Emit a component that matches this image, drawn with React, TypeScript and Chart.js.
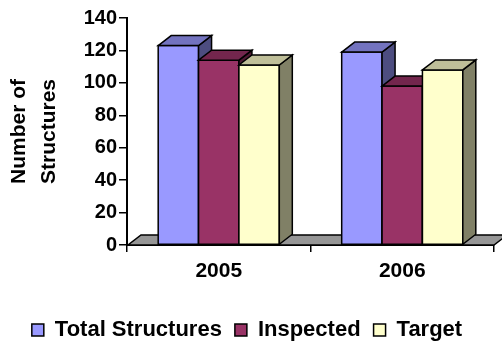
import React, { useEffect, useRef } from 'react';
import { Chart, registerables } from 'chart.js';

Chart.register(...registerables);

const categories = ['2005', '2006'];
const totalStructures = [123, 119];
const inspected = [114, 98];
const target = [111, 108];

const seriesNames = ['Total Structures', 'Inspected', 'Target'];
const frontColors = ['#9999FF', '#993366', '#FFFFCC'];
const topColors = ['#7373BF', '#73264D', '#BFBF99'];
const sideColors = ['#4D4D80', '#4D1A33', '#808066'];

const yTicks = { min: 0, max: 140, step: 20 };

const FONT = 'Arial, "Liberation Sans", sans-serif';
const DX = 13; // depth offset to the right
const DY = 10; // depth offset upward

// Extruded 3D look: a grey floor under the bars, then each bar redrawn with
// its front, right side and top faces, left to right so neighbours overlap.
const depthPlugin = {
  id: 'depth3d',
  beforeDatasetsDraw(chart: any) {
    const { ctx, chartArea, scales } = chart;
    const base = scales.y.getPixelForValue(0);
    ctx.save();
    ctx.beginPath();
    ctx.moveTo(chartArea.left + 1, base);
    ctx.lineTo(chartArea.right, base);
    ctx.lineTo(chartArea.right + DX, base - DY);
    ctx.lineTo(chartArea.left + 1 + DX, base - DY);
    ctx.closePath();
    ctx.fillStyle = '#969696';
    ctx.fill();
    ctx.lineWidth = 1.5;
    ctx.strokeStyle = '#000';
    ctx.lineJoin = 'miter';
    ctx.stroke();
    ctx.restore();
  },
  afterDatasetsDraw(chart: any) {
    const { ctx } = chart;
    ctx.save();
    ctx.lineWidth = 1.5;
    ctx.strokeStyle = '#000';
    ctx.lineJoin = 'miter';
    chart.data.datasets.forEach((_ds: any, i: number) => {
      const meta = chart.getDatasetMeta(i);
      meta.data.forEach((bar: any) => {
        const { x, y, base, width } = bar.getProps(['x', 'y', 'base', 'width'], true);
        const l = x - width / 2;
        const r = x + width / 2;
        // front face
        ctx.beginPath();
        ctx.rect(l, y, r - l, base - y);
        ctx.fillStyle = frontColors[i];
        ctx.fill();
        ctx.stroke();
        // right side face
        ctx.beginPath();
        ctx.moveTo(r, y);
        ctx.lineTo(r + DX, y - DY);
        ctx.lineTo(r + DX, base - DY);
        ctx.lineTo(r, base);
        ctx.closePath();
        ctx.fillStyle = sideColors[i];
        ctx.fill();
        ctx.stroke();
        // top face
        ctx.beginPath();
        ctx.moveTo(l, y);
        ctx.lineTo(l + DX, y - DY);
        ctx.lineTo(r + DX, y - DY);
        ctx.lineTo(r, y);
        ctx.closePath();
        ctx.fillStyle = topColors[i];
        ctx.fill();
        ctx.stroke();
      });
    });
    ctx.restore();
  },
};

export default function App() {
  const canvasRef = useRef<HTMLCanvasElement>(null);

  useEffect(() => {
    const canvas = canvasRef.current;
    if (!canvas) return;
    const values = [totalStructures, inspected, target];
    const chart = new Chart(canvas, {
      type: 'bar',
      data: {
        labels: categories,
        datasets: values.map((data, i) => ({
          label: seriesNames[i],
          data,
          backgroundColor: frontColors[i],
          borderColor: '#000',
          borderWidth: 1.5,
          categoryPercentage: 0.66,
          barPercentage: 1.0,
        })),
      },
      options: {
        responsive: false,
        animation: false,
        events: [],
        layout: { padding: { left: 0, right: 8, top: 18, bottom: -8 } },
        plugins: {
          tooltip: { enabled: false },
          legend: {
            position: 'bottom',
            labels: {
              boxWidth: 12,
              boxHeight: 12,
              padding: 13,
              color: '#000',
              font: { family: FONT, size: 22, weight: 'bold' },
            },
          },
        },
        scales: {
          x: {
            afterFit: (scale: any) => {
              scale.height = 61;
            },
            grid: {
              offset: true,
              drawOnChartArea: false,
              drawTicks: true,
              tickLength: 7,
              color: '#000',
              lineWidth: 1.5,
            },
            border: { display: true, color: '#000', width: 2 },
            ticks: {
              padding: 7,
              color: '#000',
              font: { family: FONT, size: 21, weight: 'bold' },
            },
          },
          y: {
            min: yTicks.min,
            max: yTicks.max,
            afterFit: (scale: any) => {
              scale.width = 127;
            },
            grid: {
              drawOnChartArea: false,
              drawTicks: true,
              tickLength: 8,
              color: '#000',
              lineWidth: 1.5,
            },
            border: { display: true, color: '#000', width: 2 },
            ticks: {
              stepSize: yTicks.step,
              padding: 2,
              color: '#000',
              font: { family: FONT, size: 20, weight: 'bold' },
            },
            title: {
              display: true,
              text: ['Number of', 'Structures'],
              color: '#000',
              padding: { top: 5, bottom: 0 },
              font: { family: FONT, size: 21, weight: 'bold', lineHeight: 1.4 },
            },
          },
        },
      },
      plugins: [depthPlugin],
    });
    return () => chart.destroy();
  }, []);

  return (
    <div style={{ position: 'fixed', left: 0, top: 0, width: 502, height: 343, background: '#fff' }}>
      <canvas ref={canvasRef} width={502} height={343} style={{ display: 'block' }} />
    </div>
  );
}
